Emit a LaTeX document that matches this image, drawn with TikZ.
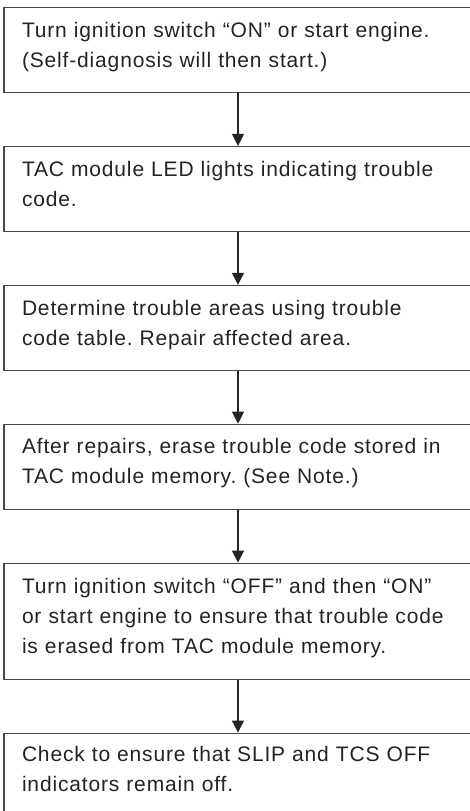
\documentclass[tikz,border=0pt]{standalone}
\usepackage{fontspec}
\newfontfamily\stepfont{Liberation Sans}[LetterSpace=4]
\usetikzlibrary{arrows.meta,positioning}
\definecolor{boxgray}{RGB}{70,70,70}
\definecolor{txtgray}{RGB}{35,35,35}
\newcommand{\tstrut}{\rule[-13pt]{0pt}{30pt}}
\frenchspacing

\begin{document}
\begin{tikzpicture}[
    x=1pt, y=1pt,
    node distance=52.5pt,
    stepbox/.style={rectangle, draw=boxgray, line width=1.4pt,
                    minimum width=468pt, minimum height=#1,
                    text width=432pt, align=left, inner xsep=18pt, inner ysep=0pt,
                    font=\stepfont\fontsize{21}{30}\selectfont, text=txtgray},
    stepbox/.default=85pt,
    arr/.style={-{Triangle[length=12pt,width=12pt]}, line width=1.2pt, draw=txtgray},
  ]
  \useasboundingbox (0,0) rectangle (469,-811);

  \node[stepbox, anchor=north] (ign) at (238,-7)
    {\tstrut Turn ignition switch “ON” or start engine.\\
     \tstrut (Self-diagnosis will then start.)};

  \node[stepbox, below=of ign] (led)
    {\tstrut TAC module LED lights indicating trouble\\
     \tstrut code.};

  \node[stepbox, below=of led] (areas)
    {\tstrut Determine trouble areas using trouble\\
     \tstrut code table. Repair affected area.};

  \node[stepbox, below=of areas] (erase)
    {\tstrut After repairs, erase trouble code stored in\\
     \tstrut TAC module memory. (See Note.)};

  \node[stepbox=116pt, below=of erase] (recheck)
    {\tstrut Turn ignition switch “OFF” and then “ON”\\
     \tstrut or start engine to ensure that trouble code\\
     \tstrut is erased from TAC module memory.};

  \node[stepbox=83pt, below=of recheck] (check)
    {\tstrut Check to ensure that SLIP and TCS OFF\\
     \tstrut indicators remain off.};

  \draw[arr] (ign)     -- (led);
  \draw[arr] (led)     -- (areas);
  \draw[arr] (areas)   -- (erase);
  \draw[arr] (erase)   -- (recheck);
  \draw[arr] (recheck) -- (check);
\end{tikzpicture}
\end{document}
